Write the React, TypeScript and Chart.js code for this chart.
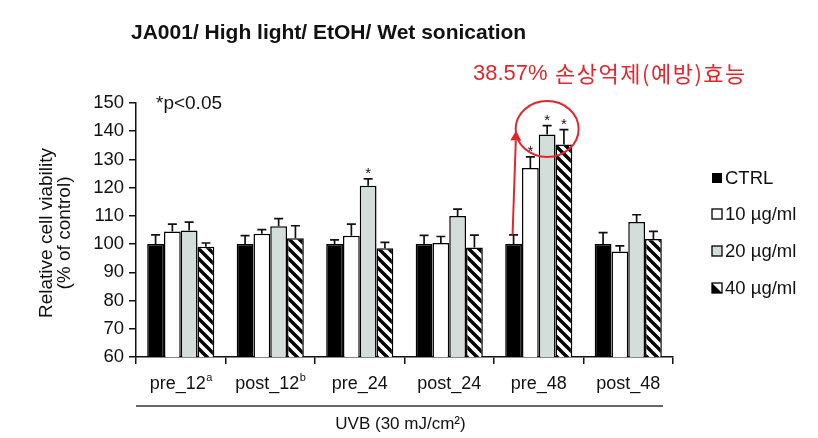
import React, { useEffect, useRef } from 'react';
import { Chart, registerables } from 'chart.js';

Chart.register(...registerables);

// ---------- data ----------
const categories = ['pre_12', 'post_12', 'pre_24', 'post_24', 'pre_48', 'post_48'];
const categorySup = ['a', 'b', '', '', '', ''];
const seriesNames = ['CTRL', '10 µg/ml', '20 µg/ml', '40 µg/ml'];

const ctrlValues = [100, 100, 100, 100, 100, 100];
const ctrlErrors = [3.3, 3.0, 1.5, 3.1, 3.3, 4.1];
const ug10Values = [104.5, 103.7, 103.0, 100.4, 127.0, 97.4];
const ug10Errors = [2.6, 1.4, 4.1, 2.3, 3.9, 2.0];
const ug20Values = [104.8, 106.3, 120.7, 110.0, 138.8, 107.8];
const ug20Errors = [3.0, 2.7, 2.4, 2.4, 3.2, 2.6];
const ug40Values = [99.1, 102.1, 98.5, 98.8, 135.3, 101.8];
const ug40Errors = [1.3, 4.4, 2.1, 4.4, 5.3, 2.7];

const ctrlStars = [false, false, false, false, false, false];
const ug10Stars = [false, false, false, false, true, false];
const ug20Stars = [false, false, true, false, true, false];
const ug40Stars = [false, false, false, false, true, false];

const yMin = 60;
const yMax = 150;
const yStep = 10;

const titleText = 'JA001/ High light/ EtOH/ Wet sonication';
const annotationValue = '38.57%';
const annotationLabel = '손상억제(예방)효능';
const pNote = '*p<0.05';
const xAxisTitle = 'UVB (30 mJ/cm²)';
const yAxisTitle = ['Relative cell viability', '(% of control)'];

// annotation anchors (in data values)
const annotationCategory = 4; // pre_48
const circleCenterValue = 140.8;

const seriesValues = [ctrlValues, ug10Values, ug20Values, ug40Values];
const seriesErrors = [ctrlErrors, ug10Errors, ug20Errors, ug40Errors];
const seriesStars = [ctrlStars, ug10Stars, ug20Stars, ug40Stars];

const FONT = '"Liberation Sans", Arial, Helvetica, sans-serif';
const GRAY = '#d3dedb';
const RED = '#e4262c';

function makeHatch(): CanvasPattern | string {
  const s = 10;
  const c = document.createElement('canvas');
  c.width = s;
  c.height = s;
  const g = c.getContext('2d');
  if (!g) return '#888';
  g.fillStyle = '#fff';
  g.fillRect(0, 0, s, s);
  g.strokeStyle = '#000';
  g.lineWidth = 3.4;
  g.beginPath();
  g.moveTo(-s, -s);
  g.lineTo(2 * s, 2 * s);
  g.moveTo(-s, 0);
  g.lineTo(s, 2 * s);
  g.moveTo(0, -s);
  g.lineTo(2 * s, s);
  g.stroke();
  return g.createPattern(c, 'repeat') || '#888';
}

const overlayPlugin = {
  id: 'overlay',
  afterDraw(chart: any) {
    const { ctx, chartArea, scales } = chart;
    const xs = scales.x;
    const ys = scales.y;
    ctx.save();

    // error bars and stars
    seriesValues.forEach((vals, i) => {
      const meta = chart.getDatasetMeta(i);
      meta.data.forEach((el: any, j: number) => {
        const top = ys.getPixelForValue(vals[j]);
        const et = ys.getPixelForValue(vals[j] + seriesErrors[i][j]);
        ctx.strokeStyle = '#111';
        ctx.lineWidth = 1.7;
        ctx.beginPath();
        ctx.moveTo(el.x, top);
        ctx.lineTo(el.x, et);
        ctx.moveTo(el.x - 4.5, et);
        ctx.lineTo(el.x + 4.5, et);
        ctx.stroke();
        if (seriesStars[i][j]) {
          ctx.fillStyle = '#111';
          ctx.font = `15px ${FONT}`;
          ctx.textAlign = 'center';
          ctx.textBaseline = 'alphabetic';
          ctx.fillText('*', el.x, et - 1);
        }
      });
    });

    // title
    ctx.fillStyle = '#111';
    ctx.font = `bold 21px ${FONT}`;
    ctx.textAlign = 'left';
    ctx.textBaseline = 'middle';
    ctx.fillText(titleText, 131, 33);

    // p note
    ctx.font = `19px ${FONT}`;
    ctx.fillText(pNote, 156, 104);

    // x labels with superscripts
    categories.forEach((cat, j) => {
      const cx = xs.getPixelForValue(j);
      ctx.font = `18px ${FONT}`;
      const w1 = ctx.measureText(cat).width;
      ctx.font = `11px ${FONT}`;
      const w2 = categorySup[j] ? ctx.measureText(categorySup[j]).width : 0;
      const start = cx - (w1 + w2) / 2;
      ctx.fillStyle = '#111';
      ctx.textAlign = 'left';
      ctx.textBaseline = 'alphabetic';
      ctx.font = `18px ${FONT}`;
      ctx.fillText(cat, start, 389);
      if (categorySup[j]) {
        ctx.font = `11px ${FONT}`;
        ctx.fillText(categorySup[j], start + w1 + 0.5, 381);
      }
    });

    // x group underline and axis title
    ctx.strokeStyle = '#333';
    ctx.lineWidth = 1.5;
    ctx.beginPath();
    ctx.moveTo(chartArea.left, 406);
    ctx.lineTo(chartArea.right - 10, 406);
    ctx.stroke();
    ctx.font = `17px ${FONT}`;
    ctx.textAlign = 'center';
    ctx.textBaseline = 'middle';
    ctx.fillText(xAxisTitle, (chartArea.left + chartArea.right) / 2 - 4, 424);

    // y axis title
    ctx.save();
    ctx.translate(47, 233);
    ctx.rotate(-Math.PI / 2);
    ctx.font = `19px ${FONT}`;
    ctx.textAlign = 'center';
    ctx.textBaseline = 'middle';
    ctx.fillText(yAxisTitle[0], 0, 0);
    ctx.fillText(yAxisTitle[1], 0, 18);
    ctx.restore();

    // legend
    const legendY = [178, 214, 251, 288];
    const hatchLegend = (x: number, y: number, s: number) => {
      ctx.fillStyle = '#fff';
      ctx.fillRect(x, y, s, s);
      ctx.fillStyle = '#000';
      ctx.beginPath();
      ctx.moveTo(x, y);
      ctx.lineTo(x, y + s);
      ctx.lineTo(x + s, y + s);
      ctx.closePath();
      ctx.fill();
      ctx.strokeStyle = '#000';
      ctx.lineWidth = 1.3;
      ctx.strokeRect(x, y, s, s);
    };
    seriesNames.forEach((name, i) => {
      const y = legendY[i];
      const bx = 712;
      const s = 10;
      const by = y - s / 2;
      if (i === 0) {
        ctx.fillStyle = '#000';
        ctx.fillRect(bx, by, s, s);
      } else if (i === 3) {
        hatchLegend(bx, by, s);
      } else {
        ctx.fillStyle = i === 1 ? '#fff' : GRAY;
        ctx.fillRect(bx, by, s, s);
        ctx.strokeStyle = '#000';
        ctx.lineWidth = 1.3;
        ctx.strokeRect(bx, by, s, s);
      }
      ctx.fillStyle = '#111';
      ctx.font = `18.5px ${FONT}`;
      ctx.textAlign = 'left';
      ctx.textBaseline = 'middle';
      ctx.fillText(name, bx + 13, y + 1);
    });

    // red annotation: circle, arrow, text
    const ctrlEl = chart.getDatasetMeta(0).data[annotationCategory];
    const grayEl = chart.getDatasetMeta(2).data[annotationCategory];
    const ccx = grayEl.x;
    const ccy = ys.getPixelForValue(circleCenterValue);
    const rx = 31.5;
    const ry = 28;
    ctx.strokeStyle = RED;
    ctx.lineWidth = 2;
    ctx.beginPath();
    ctx.ellipse(ccx, ccy, rx, ry, 0, 0, Math.PI * 2);
    ctx.stroke();

    const sx = ctrlEl.x - 1;
    const sy = ys.getPixelForValue(ctrlValues[annotationCategory] + ctrlErrors[annotationCategory]);
    const tx = ccx - rx + 0.5;
    const ty = ccy + 1.5;
    const ang = Math.atan2(ty - sy, tx - sx);
    const headLen = 10;
    const headW = 5.5;
    const bxp = tx - headLen * Math.cos(ang);
    const byp = ty - headLen * Math.sin(ang);
    ctx.beginPath();
    ctx.moveTo(sx, sy);
    ctx.lineTo(bxp, byp);
    ctx.stroke();
    ctx.fillStyle = RED;
    ctx.beginPath();
    ctx.moveTo(tx, ty);
    ctx.lineTo(bxp + headW * Math.sin(ang), byp - headW * Math.cos(ang));
    ctx.lineTo(bxp - headW * Math.sin(ang), byp + headW * Math.cos(ang));
    ctx.closePath();
    ctx.fill();

    ctx.fillStyle = RED;
    ctx.textAlign = 'left';
    ctx.textBaseline = 'middle';
    ctx.font = `22px ${FONT}`;
    ctx.fillText(annotationValue, 473, 74);
    ctx.font = `22px "Noto Sans CJK KR", ${FONT}`;
    try {
      (ctx as any).letterSpacing = '1.5px';
    } catch (e) {
      /* ignore */
    }
    ctx.fillText(annotationLabel, 555, 74);
    try {
      (ctx as any).letterSpacing = '0px';
    } catch (e) {
      /* ignore */
    }

    ctx.restore();
  },
};

export default function App() {
  const ref = useRef<HTMLCanvasElement | null>(null);

  useEffect(() => {
    const prevMargin = document.body.style.margin;
    document.body.style.margin = '0';
    const canvas = ref.current;
    if (!canvas) return;
    const hatch = makeHatch();
    const fills = ['#000000', '#ffffff', GRAY, hatch];
    const chart = new Chart(canvas, {
      type: 'bar',
      data: {
        labels: categories,
        datasets: seriesValues.map((vals, i) => ({
          label: seriesNames[i],
          data: vals,
          backgroundColor: fills[i] as any,
          borderColor: '#000',
          borderWidth: 1.5,
          categoryPercentage: 0.75,
          barPercentage: 1.0,
        })),
      },
      options: {
        animation: false,
        responsive: false,
        devicePixelRatio: 1,
        layout: { padding: { left: 0, top: 103, right: 145, bottom: 0 } },
        plugins: {
          legend: { display: false },
          title: { display: false },
          tooltip: { enabled: false },
        },
        scales: {
          x: {
            type: 'category',
            offset: true,
            grid: {
              offset: true,
              drawOnChartArea: false,
              drawTicks: true,
              tickLength: 7,
              color: '#111',
              lineWidth: 1.5,
            },
            border: { color: '#111', width: 1.5 },
            ticks: { display: false },
            afterFit: (scale: any) => {
              scale.height = 81;
            },
          },
          y: {
            min: yMin,
            max: yMax,
            ticks: {
              stepSize: yStep,
              color: '#111',
              font: { family: FONT, size: 18.5 },
              padding: 5,
            },
            grid: {
              drawOnChartArea: false,
              drawTicks: true,
              tickLength: 7,
              color: '#111',
              lineWidth: 1.5,
            },
            border: { color: '#111', width: 1.5 },
            afterFit: (scale: any) => {
              scale.width = 136;
            },
          },
        },
      },
      plugins: [overlayPlugin],
    });
    return () => {
      chart.destroy();
      document.body.style.margin = prevMargin;
    };
  }, []);

  return (
    <div style={{ position: 'absolute', left: 0, top: 0, width: 818, height: 438, background: '#fff' }}>
      <canvas ref={ref} width={818} height={438} style={{ width: 818, height: 438, display: 'block' }} />
    </div>
  );
}
